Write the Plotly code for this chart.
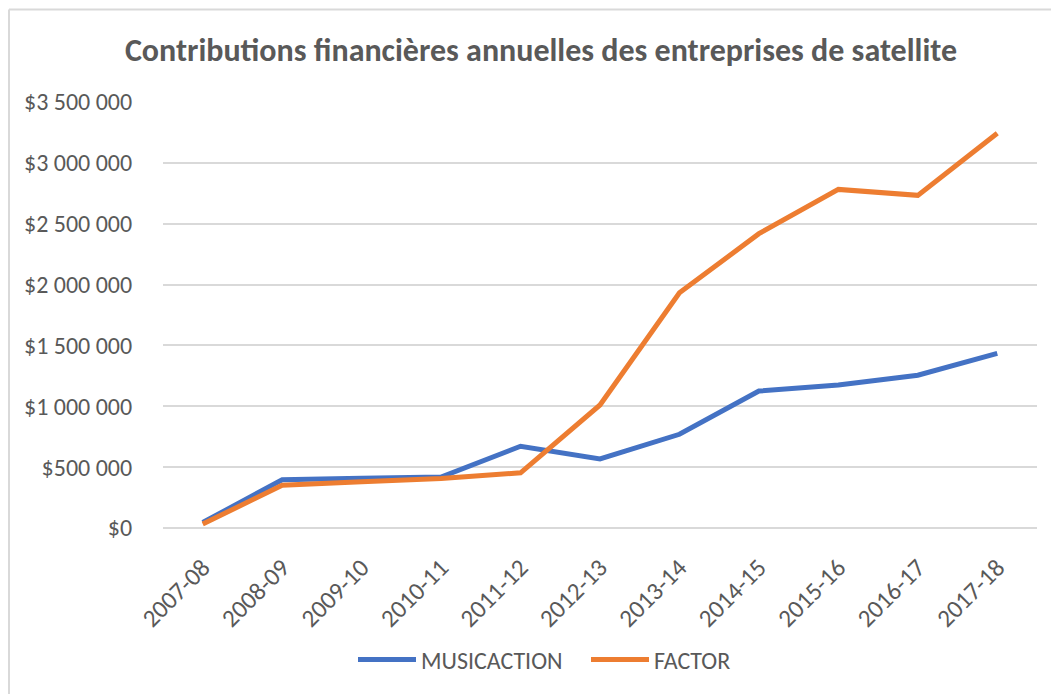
import plotly.graph_objects as go

categories = ["2007-08", "2008-09", "2009-10", "2010-11", "2011-12", "2012-13",
              "2013-14", "2014-15", "2015-16", "2016-17", "2017-18"]
musicaction = [45000, 396000, 408000, 418000, 672000, 568000, 770000, 1125000, 1175000, 1255000, 1435000]
factor = [32000, 352000, 380000, 407000, 453000, 1011000, 1932000, 2418000, 2782000, 2733000, 3243000]
ytick_vals = [0, 500000, 1000000, 1500000, 2000000, 2500000, 3000000, 3500000]
ytick_text = ["$0", "$500 000", "$1 000 000", "$1 500 000", "$2 000 000",
              "$2 500 000", "$3 000 000", "$3 500 000"]

# page body has an 8px default margin; build the figure in page coords minus 8
OFF = 8
W, H = 1059 - OFF, 694 - OFF
ML = 163 - OFF
MT = 102 - OFF
MR = W - (1037 - OFF)
MB = H - (528 - OFF)
PW, PH = W - ML - MR, H - MT - MB

FONT = "Carlito, Calibri, 'Open Sans', sans-serif"
GRAY = "#595959"

fig = go.Figure()
fig.add_trace(go.Scatter(x=categories, y=musicaction, mode="lines", name="MUSICACTION",
                         line=dict(color="#4472C4", width=5)))
fig.add_trace(go.Scatter(x=categories, y=factor, mode="lines", name="FACTOR",
                         line=dict(color="#ED7D31", width=5)))

def px2paper_x(px):
    return (px - OFF - ML) / PW

def px2paper_y(py):
    return (H - MB - (py - OFF)) / PH

fig.update_layout(
    width=W, height=H,
    margin=dict(l=ML, r=MR, t=MT, b=MB, pad=0),
    paper_bgcolor="white", plot_bgcolor="white",
    title=dict(text="<b>Contributions financières annuelles des entreprises de satellite</b>",
               x=px2paper_x(541), xanchor="center", y=1 - (50 - OFF) / H, yanchor="middle",
               xref="paper",
               font=dict(family=FONT, size=32, color=GRAY)),
    font=dict(family=FONT, color=GRAY, size=24),
    showlegend=True,
    legend=dict(orientation="h", x=px2paper_x(353), xanchor="left", y=px2paper_y(660), yanchor="middle",
                font=dict(family=FONT, size=24, color=GRAY), itemwidth=58,
                entrywidth=160, entrywidthmode="pixels",
                bgcolor="rgba(0,0,0,0)"),
    xaxis=dict(type="category", range=[-0.5, 10.5], tickangle=-45, showgrid=False,
               showline=False, ticks="outside", ticklen=14, tickcolor="rgba(0,0,0,0)",
               tickfont=dict(size=25, color=GRAY)),
    yaxis=dict(range=[0, 3500000], tickvals=ytick_vals, ticktext=ytick_text,
               showgrid=True, gridcolor="#d9d9d9", gridwidth=1.5, zeroline=True,
               zerolinecolor="#d9d9d9", zerolinewidth=1.5, showline=False,
               ticks="outside", ticklen=25, tickcolor="rgba(0,0,0,0)",
               tickfont=dict(size=24, color=GRAY)),
    shapes=[
        dict(type="line", xref="paper", yref="paper",
             x0=px2paper_x(9), x1=px2paper_x(1070), y0=px2paper_y(9.5), y1=px2paper_y(9.5),
             line=dict(color="#d9d9d9", width=2)),
        dict(type="line", xref="paper", yref="paper",
             x0=px2paper_x(9), x1=px2paper_x(9), y0=px2paper_y(9.5), y1=px2paper_y(700),
             line=dict(color="#d9d9d9", width=2)),
    ],
)

fig.write_html("out.html")
